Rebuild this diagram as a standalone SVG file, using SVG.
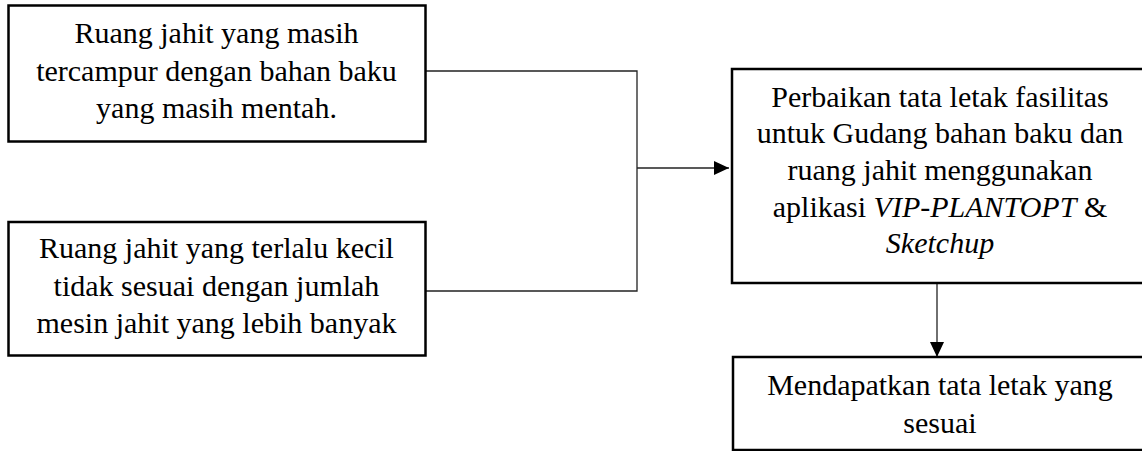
<svg xmlns="http://www.w3.org/2000/svg" width="1142" height="451" viewBox="0 0 1142 451">
<style>
.box{fill:#fff;stroke:#000;stroke-width:2.5}
.t{font-family:"Liberation Serif","Times New Roman",serif;font-size:30px;fill:#000;text-anchor:middle}
.i{font-style:italic}
.c{fill:none;stroke:#222;stroke-width:1.3}
</style>
<defs>
<marker id="ah" markerWidth="15" markerHeight="14" refX="15" refY="7" orient="auto" markerUnits="userSpaceOnUse">
<path d="M0,0 L15,7 L0,14 Z" fill="#000"/>
</marker>
</defs>
<g id="connectors">
<polyline class="c" points="426,71 637,71 637,291 426,291"/>
<line class="c" x1="637" y1="168" x2="729" y2="168" marker-end="url(#ah)"/>
<line class="c" x1="937" y1="283" x2="937" y2="357" marker-end="url(#ah)"/>
</g>
<g id="node1">
<rect class="box" x="8.5" y="5.5" width="417" height="136"/>
<text class="t" x="216.5" y="43">Ruang jahit yang masih</text>
<text class="t" x="216.5" y="81">tercampur dengan bahan baku</text>
<text class="t" x="216.5" y="118">yang masih mentah.</text>
</g>
<g id="node2">
<rect class="box" x="8.5" y="222" width="417" height="133.5"/>
<text class="t" x="216.5" y="258">Ruang jahit yang terlalu kecil</text>
<text class="t" x="216.5" y="296">tidak sesuai dengan jumlah</text>
<text class="t" x="216.5" y="333">mesin jahit yang lebih banyak</text>
</g>
<g id="node3">
<rect class="box" x="732" y="69" width="416" height="214"/>
<text class="t" x="940" y="107">Perbaikan tata letak fasilitas</text>
<text class="t" x="940" y="143">untuk Gudang bahan baku dan</text>
<text class="t" x="940" y="180">ruang jahit menggunakan</text>
<text class="t" x="940" y="217">aplikasi <tspan class="i">VIP-PLANTOPT</tspan> &amp;</text>
<text class="t i" x="940" y="253">Sketchup</text>
</g>
<g id="node4">
<rect class="box" x="733" y="357" width="415" height="93"/>
<text class="t" x="940" y="395">Mendapatkan tata letak yang</text>
<text class="t" x="940" y="433">sesuai</text>
</g>
</svg>
